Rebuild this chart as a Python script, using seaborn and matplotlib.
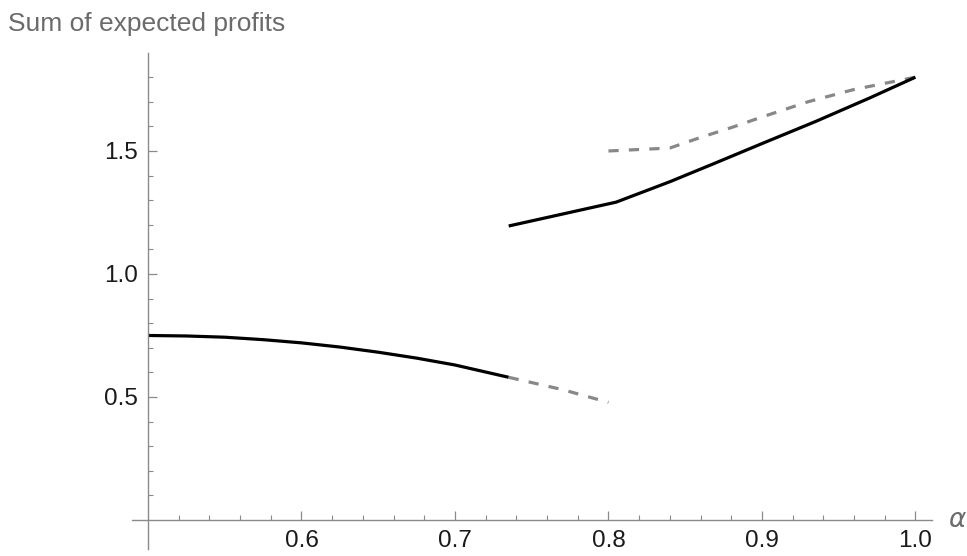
import matplotlib
matplotlib.use("Agg")
import matplotlib.pyplot as plt
from matplotlib.ticker import FixedLocator
import seaborn as sns
import pandas as pd

# Branch values of the expected-profit sum against alpha
alpha_low = [0.5, 0.525, 0.55, 0.575, 0.6, 0.625, 0.65, 0.675, 0.7, 0.735]
profit_low = [0.750, 0.748, 0.743, 0.733, 0.720, 0.703, 0.682, 0.658, 0.630, 0.580]

alpha_low_dev = [0.735, 0.77, 0.8]
profit_low_dev = [0.580, 0.530, 0.478]

alpha_high = [0.735, 0.805, 0.84, 0.87, 0.9, 0.935, 0.97, 1.0]
profit_high = [1.195, 1.292, 1.375, 1.452, 1.530, 1.620, 1.715, 1.800]

alpha_high_dev = [0.8, 0.84, 0.86, 0.88, 0.9, 0.93, 0.96, 1.0]
profit_high_dev = [1.500, 1.512, 1.555, 1.595, 1.638, 1.700, 1.750, 1.800]

x_ticks = [0.6, 0.7, 0.8, 0.9, 1.0]
y_ticks = [0.5, 1.0, 1.5]
x_minor = [round(0.52 + 0.02 * i, 2) for i in range(25)]
y_minor = [round(0.1 * i, 1) for i in range(1, 19)]

sns.set_style("white")
plt.rcParams["font.family"] = ["Liberation Sans", "DejaVu Sans"]

fig = plt.figure(figsize=(9.67, 5.56), dpi=100)
ax = fig.add_axes([0.1362, 0.0117, 0.8273, 0.8924])

solid = dict(color="black", linewidth=2.3, solid_capstyle="butt")
dashed = dict(color="#888888", linewidth=2.3, dashes=(3.2, 3.2))

sns.lineplot(data=pd.DataFrame({"a": alpha_low, "p": profit_low}), x="a", y="p",
             ax=ax, sort=False, estimator=None, **solid)
sns.lineplot(data=pd.DataFrame({"a": alpha_low_dev, "p": profit_low_dev}), x="a", y="p",
             ax=ax, sort=False, estimator=None, **dashed)
sns.lineplot(data=pd.DataFrame({"a": alpha_high_dev, "p": profit_high_dev}), x="a", y="p",
             ax=ax, sort=False, estimator=None, **dashed)
sns.lineplot(data=pd.DataFrame({"a": alpha_high, "p": profit_high}), x="a", y="p",
             ax=ax, sort=False, estimator=None, **solid)

ax.set_xlim(0.4894, 1.0106)
ax.set_ylim(-0.12, 1.897)
ax.set_xlabel("")
ax.set_ylabel("")

axis_grey = "#8a8a8a"
for side in ("top", "right"):
    ax.spines[side].set_visible(False)
ax.spines["left"].set_position(("data", 0.5))
ax.spines["bottom"].set_position(("data", 0.0))
for side in ("left", "bottom"):
    ax.spines[side].set_color(axis_grey)
    ax.spines[side].set_linewidth(1.0)

ax.xaxis.set_major_locator(FixedLocator(x_ticks))
ax.yaxis.set_major_locator(FixedLocator(y_ticks))
ax.xaxis.set_minor_locator(FixedLocator(x_minor))
ax.yaxis.set_minor_locator(FixedLocator(y_minor))
ax.set_xticklabels([f"{v:.1f}" for v in x_ticks])
ax.set_yticklabels([f"{v:.1f}" for v in y_ticks])

ax.tick_params(axis="both", which="both", bottom=True, left=True, top=False, right=False)
ax.tick_params(axis="both", which="major", direction="in", length=6.5, width=0.9,
               color=axis_grey, labelsize=17.5, labelcolor="#1a1a1a", pad=7)
ax.tick_params(axis="both", which="minor", direction="in", length=3.8, width=0.8,
               color=axis_grey)

fig.text(8 / 967, 1 - 31.5 / 556, "Sum of expected profits", fontsize=19,
         color="#6b6b6b", ha="left", va="baseline")
fig.text(958 / 967, 1 - 520 / 556, r"$\alpha$", fontsize=19, color="#6b6b6b",
         ha="center", va="center")

fig.savefig("out.png", dpi=100, facecolor="white")
